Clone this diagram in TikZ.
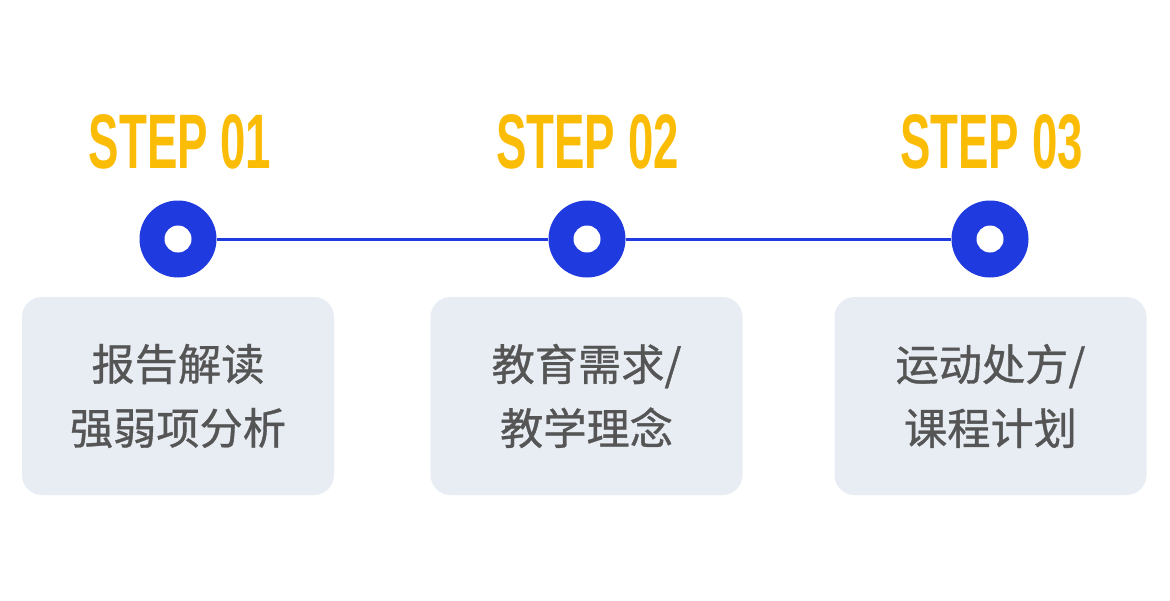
\documentclass[tikz,border=0pt]{standalone}
\usepackage{fontspec}
\usepackage{graphicx}
\setmainfont{Liberation Sans}
\newfontfamily\cjk[FakeBold=0.8]{Noto Sans CJK SC}
\usetikzlibrary{positioning}
\definecolor{stepyellow}{HTML}{FBBC05}
\definecolor{dotblue}{HTML}{1F3ADF}
\definecolor{boxgrey}{HTML}{E8EDF4}
\definecolor{textgrey}{HTML}{555555}
\tikzset{
  steplabel/.style={text=stepyellow,font=\bfseries\fontsize{22pt}{22pt}\selectfont,inner sep=0pt},
  dot/.style={circle,fill=dotblue,minimum size=0.77cm,inner sep=0pt},
  hole/.style={circle,fill=white,minimum size=0.27cm,inner sep=0pt},
  stagebox/.style={fill=boxgrey,rounded corners=0.2cm,minimum width=3.12cm,minimum height=1.98cm,
    inner sep=0pt,align=center,text=textgrey,font=\cjk\fontsize{12.3pt}{18.2pt}\selectfont},
  track/.style={draw=dotblue,line width=0.03cm}
}

\begin{document}
\begin{tikzpicture}
\useasboundingbox[fill=white] (0,0) rectangle (11.7,6);
% step titles
\node[steplabel] (step1) at (1.80,4.58) {\scalebox{0.59}[1]{STEP 01}};
\node[steplabel] (step2) at (5.875,4.58) {\scalebox{0.59}[1]{STEP 02}};
\node[steplabel] (step3) at (9.915,4.58) {\scalebox{0.59}[1]{STEP 03}};
% timeline
\node[dot] (dot1) at (1.78,3.61) {};
\node[dot] (dot2) at (5.87,3.61) {};
\node[dot] (dot3) at (9.90,3.61) {};
\draw[track] (dot1.east) -- (dot2.west);
\draw[track] (dot2.east) -- (dot3.west);
\node[hole] at (dot1) {};
\node[hole] at (dot2) {};
\node[hole] at (dot3) {};
% boxes
\node[stagebox] (box1) at (1.78,2.04) {报告解读\\强弱项分析};
\node[stagebox] (box2) at (5.865,2.04) {教育需求/\\教学理念};
\node[stagebox] (box3) at (9.905,2.04) {运动处方/\\课程计划};
\end{tikzpicture}
\end{document}
